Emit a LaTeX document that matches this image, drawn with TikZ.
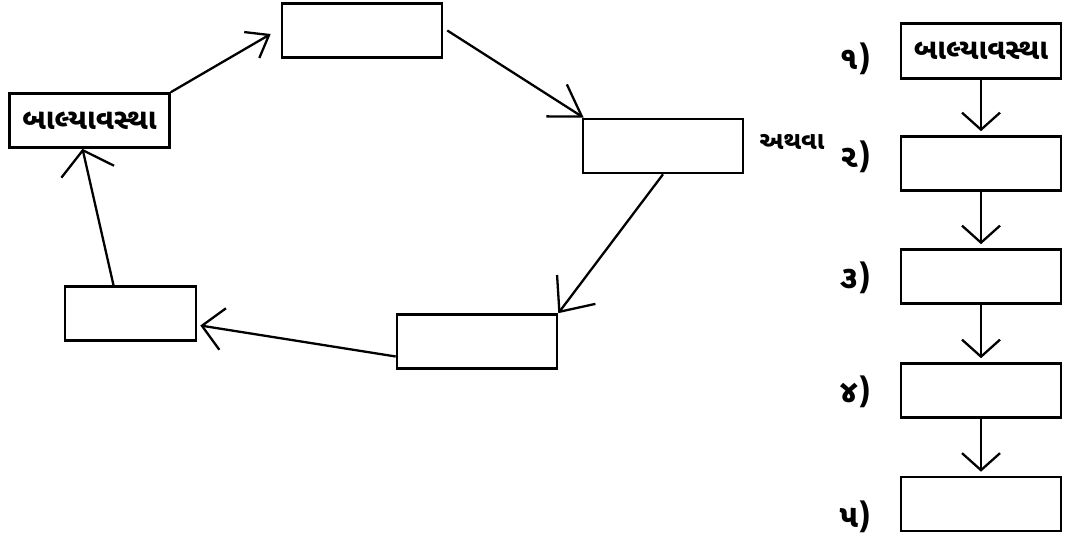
\documentclass[tikz,border=0pt]{standalone}
\usepackage{fontspec}
\newfontfamily\guj[Script=Gujarati]{Noto Sans Gujarati UI}
\usetikzlibrary{arrows.meta}
\begin{document}
\begin{tikzpicture}[x=1pt,y=-1pt,
  box/.style={draw,line width=2.6pt,minimum width=160pt,minimum height=54pt,inner sep=0pt,
    font=\guj\bfseries\fontsize{29}{32}\selectfont},
  lbl/.style={anchor=east,inner sep=0pt,font=\guj\bfseries\fontsize{32}{36}\selectfont},
  small/.style={inner sep=0pt,font=\guj\bfseries\fontsize{25}{28}\selectfont},
  conn/.style={line width=2.3pt},
  tip/.style 2 args={-{Straight Barb[length=#1,width=#2]}}
]
\useasboundingbox (0,0) rectangle (1076,540);
% cycle
\node[box] (T) at (362,30.5) {};
\node[box] (L) at (89.5,120.5) {બાલ્યાવસ્થા};
\node[box] (R) at (663,146) {};
\node[box] (BR) at (477,341.5) {};
\node[box,minimum width=131pt] (BL) at (130.5,313.5) {};
\node[small] (OR) at (792,142) {અથવા};
% column
\node[box,minimum height=55pt] (C1) at (981,51) {બાલ્યાવસ્થા};
\node[box] (C2) at (981,163.5) {};
\node[box] (C3) at (981,276.5) {};
\node[box] (C4) at (981,390.5) {};
\node[box] (C5) at (981,504) {};
\node[lbl] (N1) at (871,59) {૧)};
\node[lbl] (N2) at (871,157) {૨)};
\node[lbl] (N3) at (871,278) {૩)};
\node[lbl] (N4) at (871,392) {૪)};
\node[lbl] (N5) at (871,517) {૫)};
% cycle arrows
\draw[conn,tip={20pt}{30pt}] (L.north east) -- ([xshift=-10pt,yshift=-3.5pt]T.west);
\draw[conn,tip={30pt}{38pt}] ([xshift=4pt]T.east) -- ([xshift=2pt]R.north west);
\draw[conn,tip={28pt}{48pt}] (R.south) -- (BR.north east);
\draw[conn,tip={21pt}{42pt}] ([yshift=-15pt]BR.west) -- ([xshift=3pt,yshift=-12pt]BL.east);
\draw[conn,tip={22pt}{54pt}] ([xshift=-17pt]BL.north) -- ([xshift=-7pt]L.south);
% column arrows
\foreach \a/\b in {C1/C2,C2/C3,C3/C4,C4/C5}
  \draw[conn,tip={17pt}{38pt}] (\a.south) -- ([yshift=4pt]\b.north);
\end{tikzpicture}
\end{document}
